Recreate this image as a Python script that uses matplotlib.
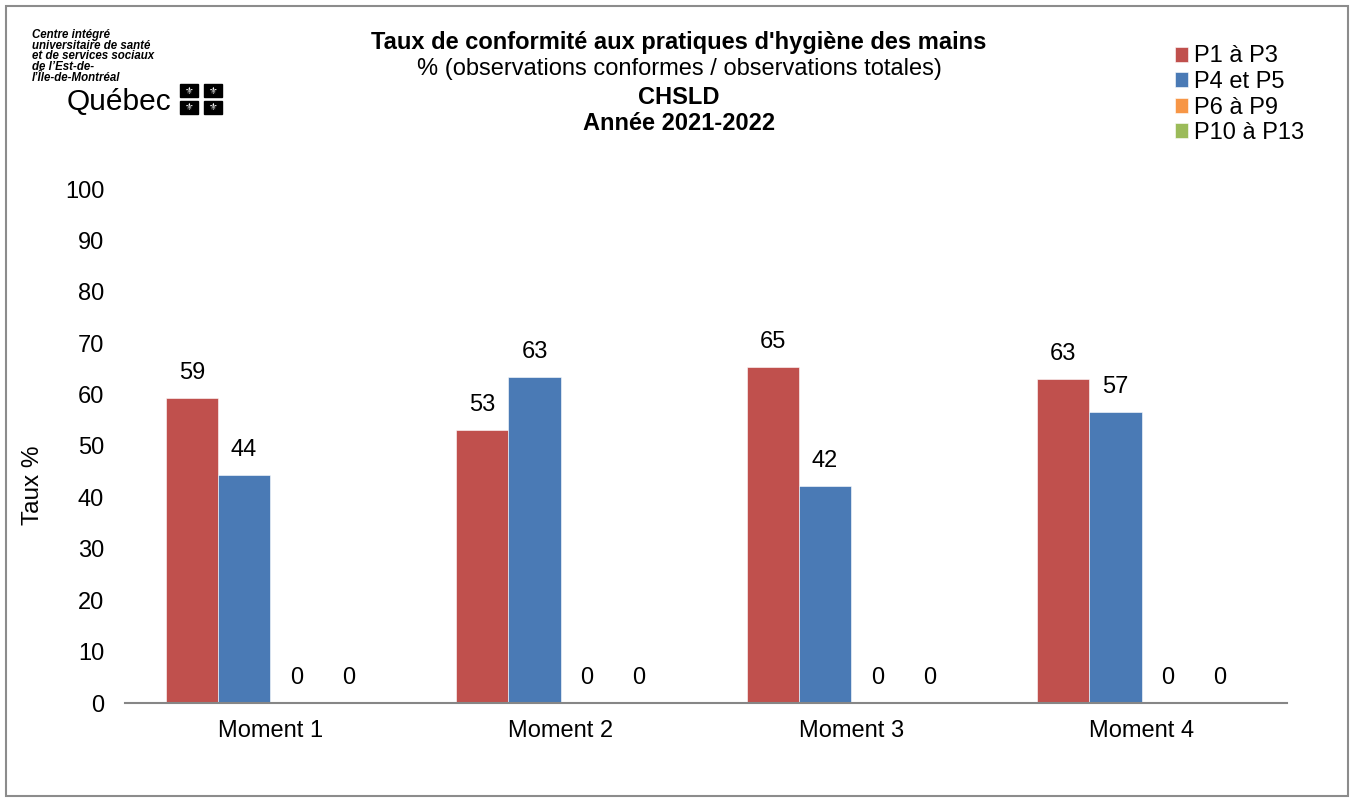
import numpy as np
import matplotlib.pyplot as plt
from matplotlib.patches import Rectangle

plt.rcParams['font.family'] = ['Liberation Sans', 'DejaVu Sans']

# données
moments = ['Moment 1', 'Moment 2', 'Moment 3', 'Moment 4']
series_names = ['P1 à P3', 'P4 et P5', 'P6 à P9', 'P10 à P13']
p1_p3 = [59.4, 53.2, 65.3, 63.1]
p4_p5 = [44.4, 63.4, 42.3, 56.7]
p6_p9 = [0, 0, 0, 0]
p10_p13 = [0, 0, 0, 0]
colors = ['#C0504D', '#4A7AB5', '#F79646', '#9BBB59']

W, H = 1352, 798
fig = plt.figure(figsize=(W / 100, H / 100), dpi=100)

def fx(px):
    return px / W

def fy(py):
    return 1 - py / H

ax = fig.add_axes([fx(125), fy(703), fx(1287) - fx(125), fy(189) - fy(703)])

FS = 17

x = np.arange(len(moments))
width = 0.18
all_series = [p1_p3, p4_p5, p6_p9, p10_p13]
for i, (vals, name, c) in enumerate(zip(all_series, series_names, colors)):
    pos = x + (i - 1.5) * width
    ax.bar(pos, vals, width, color=c, label=name, edgecolor='white', linewidth=0.4)
    for xp, v in zip(pos, vals):
        ax.annotate(f'{v:.0f}', (xp, v), xytext=(0, 18), textcoords='offset points',
                    ha='center', va='center', fontsize=FS)

ax.set_xlim(-0.5, len(moments) - 0.5)
ax.set_ylim(0, 100)
ax.set_yticks(range(0, 101, 10))
ax.set_xticks(x)
ax.set_xticklabels(moments)
ax.tick_params(axis='both', length=0, labelsize=FS)
ax.tick_params(axis='y', pad=15)
ax.tick_params(axis='x', pad=12)
for s in ['top', 'right', 'left']:
    ax.spines[s].set_visible(False)
ax.spines['bottom'].set_color('#868686')
ax.spines['bottom'].set_linewidth(1.5)

fig.text(fx(33), fy(485), 'Taux %', rotation=90, ha='center', va='center', fontsize=17.5)

# titres
fig.text(fx(679), fy(42), "Taux de conformité aux pratiques d'hygiène des mains",
         ha='center', va='center', fontsize=FS, fontweight='bold')
fig.text(fx(679), fy(69), '% (observations conformes / observations totales)',
         ha='center', va='center', fontsize=FS)
fig.text(fx(679), fy(97), 'CHSLD', ha='center', va='center', fontsize=FS, fontweight='bold')
fig.text(fx(679), fy(124), 'Année 2021-2022', ha='center', va='center', fontsize=FS,
         fontweight='bold')

# légende
fig.legend(loc='upper left', bbox_to_anchor=(fx(1166), fy(36)), frameon=False,
           fontsize=FS, handlelength=0.55, handleheight=0.6, handletextpad=0.25,
           labelspacing=0.15, borderaxespad=0)

# logo
logo_lines = ['Centre intégré', 'universitaire de santé', 'et de services sociaux',
              'de l\u2019Est-de-', 'l\u2019Île-de-Montréal']
for k, t in enumerate(logo_lines):
    fig.text(fx(32), fy(35 + k * 10.7), t, ha='left', va='center', fontsize=8.3,
             fontweight='bold', style='italic')
fig.text(fx(67), fy(102), 'Québec', ha='left', va='center', fontsize=21.5)
for sx in (180, 204):
    for sy in (84, 101):
        fig.patches.append(Rectangle((fx(sx), fy(sy + 13)), fx(18), 13 / H,
                                     transform=fig.transFigure, color='black'))
        fig.text(fx(sx + 9), fy(sy + 6.5), '\u269c', ha='center', va='center',
                 fontsize=7, color='white', family=['DejaVu Sans'])

# cadre
fig.patches.append(Rectangle((fx(6), fy(796)), fx(1348) - fx(6), fy(6) - fy(796),
                             transform=fig.transFigure, fill=False,
                             edgecolor='#8C8C8C', linewidth=1.5))

fig.savefig('out.png', dpi=100)
